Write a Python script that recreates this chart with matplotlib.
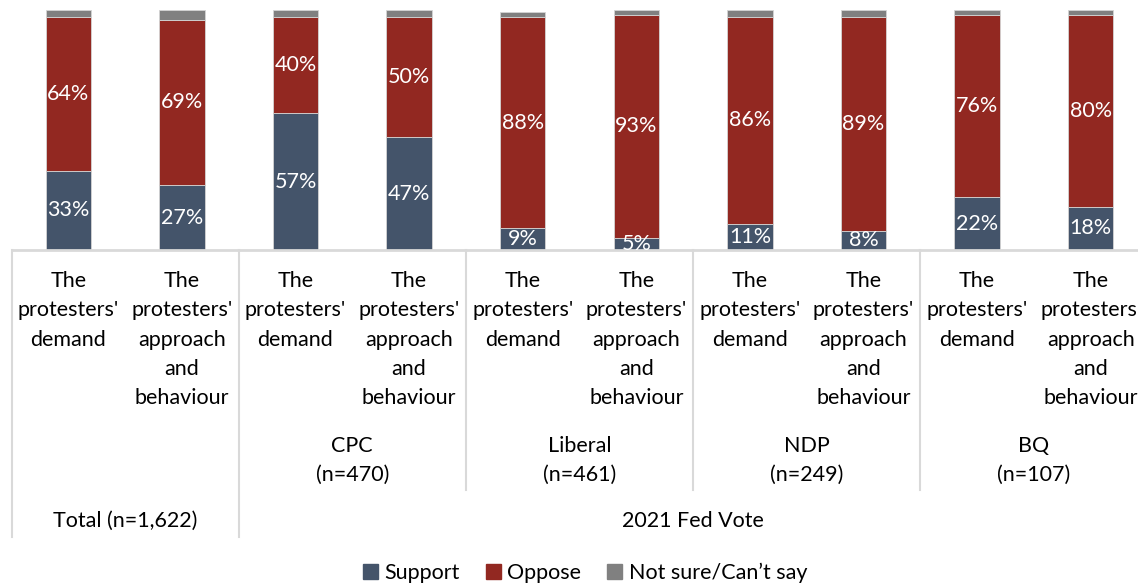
import numpy as np
import matplotlib.pyplot as plt
from matplotlib.transforms import blended_transform_factory
from matplotlib.patches import Patch

plt.rcParams['font.family'] = ['Lato', 'DejaVu Sans']

# category labels under each bar
labels = ["The\nprotesters'\ndemand", "The\nprotesters'\napproach\nand\nbehaviour"] * 5
groups = ["CPC\n(n=470)", "Liberal\n(n=461)", "NDP\n(n=249)", "BQ\n(n=107)"]
support = [33, 27, 57, 47, 9, 5, 11, 8, 22, 18]
oppose = [64, 69, 40, 50, 88, 93, 86, 89, 76, 80]
not_sure = [3, 4, 3, 3, 2, 2, 3, 3, 2, 2]

c_sup = '#44546A'
c_opp = '#922821'
c_ns = '#808080'
line_c = '#D9D9D9'
fs = 15.5

W, H = 1138, 584
fig = plt.figure(figsize=(W / 100, H / 100), dpi=100)
ax = fig.add_axes([11.5 / W, 1 - 250 / H, 1 - 11.5 / W, 240 * 1.04 / H])

x = np.arange(len(support))
sup = np.array(support)
opp = np.array(oppose)
ns = np.array(not_sure)
bw = 0.4
edge = dict(edgecolor='#d4d4d4', linewidth=0.6)
ax.bar(x, sup, bw, color=c_sup, **edge)
ax.bar(x, opp, bw, bottom=sup, color=c_opp, **edge)
ax.bar(x, ns, bw, bottom=sup + opp, color=c_ns, **edge)

for i in x:
    ax.text(i, sup[i] / 2, f'{sup[i]}%', ha='center', va='center',
            color='white', fontsize=fs, clip_on=True)
    ax.text(i, sup[i] + opp[i] / 2, f'{opp[i]}%', ha='center', va='center',
            color='white', fontsize=fs, clip_on=True)

ax.set_xlim(-0.5, -0.5 + (W - 11.5) / 113.6)
ax.set_ylim(0, 104)
ax.axis('off')

# table below the bars
tr = blended_transform_factory(ax.transData, fig.transFigure)


def fy(px):
    return 1 - px / H


ax.plot([-0.5, 10], [fy(250), fy(250)], color=line_c, lw=2, transform=tr, clip_on=False)
for xv in [-0.5, 1.5]:
    ax.plot([xv, xv], [fy(250), fy(537)], color=line_c, lw=1.5, transform=tr, clip_on=False)
for xv in [3.5, 5.5, 7.5]:
    ax.plot([xv, xv], [fy(250), fy(490)], color=line_c, lw=1.5, transform=tr, clip_on=False)

step = 29.3
for i, lab in enumerate(labels):
    for k, line in enumerate(lab.split('\n')):
        ax.text(i, fy(281 + k * step), line, ha='center', va='center',
                fontsize=fs, transform=tr, clip_on=False)

for g, lab in enumerate(groups):
    for k, line in enumerate(lab.split('\n')):
        ax.text(2.5 + 2 * g, fy(446 + k * step), line, ha='center', va='center',
                fontsize=fs, transform=tr, clip_on=False)

ax.text(0.5, fy(521), 'Total (n=1,622)', ha='center', va='center',
        fontsize=fs, transform=tr, clip_on=False)
ax.text(5.5, fy(521), '2021 Fed Vote', ha='center', va='center',
        fontsize=fs, transform=tr, clip_on=False)

handles = [Patch(color=c_sup, label='Support'),
           Patch(color=c_opp, label='Oppose'),
           Patch(color=c_ns, label='Not sure/Can\u2019t say')]
fig.legend(handles=handles, loc='center', bbox_to_anchor=(585 / W, 1 - 573 / H),
           ncol=3, frameon=False, fontsize=fs, handlelength=0.7, handleheight=0.7,
           handletextpad=0.3, columnspacing=1.2)

fig.savefig('out.png', dpi=100)
